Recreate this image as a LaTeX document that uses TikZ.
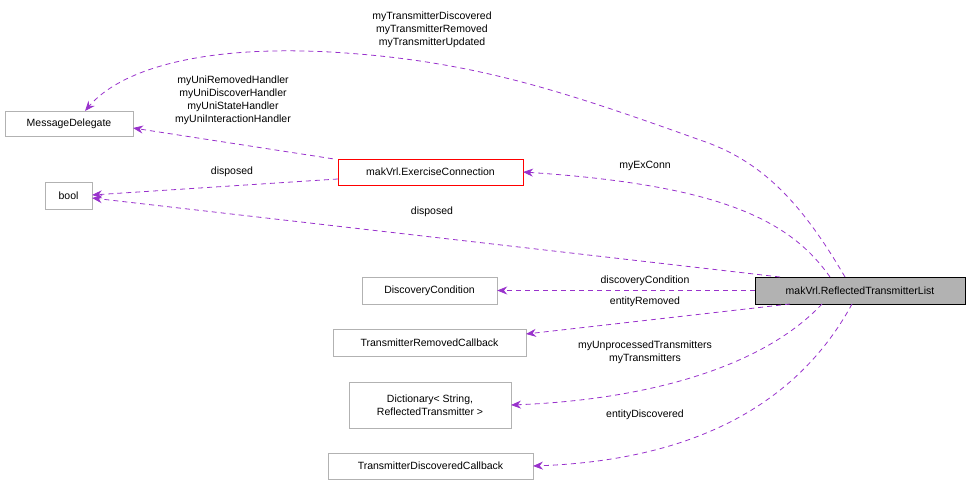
\documentclass[tikz,border=0pt]{standalone}
\usepackage{fontspec}
\setmainfont{Liberation Sans}
\usetikzlibrary{arrows.meta}
\definecolor{edge}{RGB}{153,50,204}
\begin{document}
\begin{tikzpicture}[x=1pt,y=-1pt,
  box/.style={draw=black!30,rectangle,inner sep=0pt,font=\fontsize{10.5}{13}\selectfont,align=center},
  e/.style={draw=edge,dashed,dash pattern=on 5pt off 4pt,-{Stealth[length=10pt,width=8pt]},line width=0.8pt},
  lab/.style={font=\fontsize{10.5}{13}\selectfont,align=center,inner sep=0pt}]
\useasboundingbox (0,0) rectangle (971,487);
\node[box,minimum width=128,minimum height=25] (md) at (69,123.5) {MessageDelegate};
\node[box,minimum width=47,minimum height=27] (bool) at (68.5,195.5) {bool};
\node[box,draw=red,minimum width=185,minimum height=26] (ec) at (430.5,172) {makVrl.ExerciseConnection};
\node[box,draw=black,fill=black!30,minimum width=210,minimum height=27] (rtl) at (860,290.5) {makVrl.ReflectedTransmitterList};
\node[box,minimum width=135,minimum height=27] (dc) at (429.5,290.5) {DiscoveryCondition};
\node[box,minimum width=193,minimum height=27] (trc) at (429.5,342.5) {TransmitterRemovedCallback};
\node[box,minimum width=162,minimum height=46] (dict) at (430,405) {Dictionary< String,\\ ReflectedTransmitter >};
\node[box,minimum width=205,minimum height=26] (tdc) at (430.5,466) {TransmitterDiscoveredCallback};
\coordinate (a1) at (845,277);
\draw[e] (a1) .. controls (800,200) and (760,160) .. (700,140) .. controls (560,90) and (470,60) .. (330,52) .. controls (200,45) and (120,70) .. (85,111);
\node[lab] (l1) at (432,30) {myTransmitterDiscovered\\myTransmitterRemoved\\myTransmitterUpdated};
\draw[e] (ec.north west) ++(-5,0) coordinate (a2) -- (133,128);
\node[lab] (l2) at (233,100) {myUniRemovedHandler\\myUniDiscoverHandler\\myUniStateHandler\\myUniInteractionHandler};
\draw[e] (ec.west) ++(0,7) coordinate (a3) -- (92,195);
\node[lab] (l3) at (232,172) {disposed};
\coordinate (a4) at (830,277);
\draw[e] (a4) .. controls (790,220) and (720,185) .. (523,172);
\node[lab] (l4) at (645,166) {myExConn};
\coordinate (a5) at (780,277);
\draw[e] (a5) -- (92,198);
\node[lab] (l5) at (432,212) {disposed};
\draw[e] (rtl.west) -- (dc.east);
\node[lab] (l6) at (645,281) {discoveryCondition};
\coordinate (a7) at (790,304);
\draw[e] (a7) -- (526,334);
\node[lab] (l7) at (645,302) {entityRemoved};
\coordinate (a8) at (822,304);
\draw[e] (a8) .. controls (760,370) and (640,400) .. (511,405);
\node[lab] (l8) at (645,352) {myUnprocessedTransmitters\\myTransmitters};
\coordinate (a9) at (852,304);
\draw[e] (a9) .. controls (800,400) and (700,460) .. (533,466);
\node[lab] (l9) at (645,415) {entityDiscovered};
\end{tikzpicture}
\end{document}
